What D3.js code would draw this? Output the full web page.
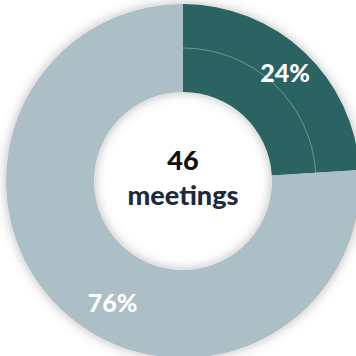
<!DOCTYPE html>
<html><head><meta charset="utf-8">
<script src="https://cdn.jsdelivr.net/npm/d3@7"></script>
<style>html,body{margin:0;padding:0;background:#fff;overflow:hidden}</style>
</head><body>
<svg id="c" width="356" height="356"></svg>
<script>
const categories = ["Yes", "No"];
const values = [24, 76];
const labels = ["24%", "76%"];
const totalValue = ["46"];
const totalUnit = ["meetings"];

const colors = ["#2b6462", "#acbec6"];
const svg = d3.select("#c");
const cx = 183, cy = 181, rOuter = 177, rInner = 89;
const font = "Lato, 'Open Sans', sans-serif";

const defs = svg.append("defs");
const f = defs.append("filter").attr("id","sh").attr("x","-20%").attr("y","-20%").attr("width","140%").attr("height","140%");
f.append("feDropShadow").attr("dx",0).attr("dy",0).attr("stdDeviation",6).attr("flood-color","#000").attr("flood-opacity",0.28);

const g = svg.append("g").attr("transform",`translate(${cx},${cy})`);
const pie = d3.pie().sort(null).value(d=>d)(values);
const arc = d3.arc().innerRadius(rInner).outerRadius(rOuter);

g.append("g").attr("filter","url(#sh)")
 .selectAll("path").data(pie).join("path")
 .attr("d", arc).attr("fill",(d,i)=>colors[i]);

// faint ring line within first slice
const ringArc = d3.arc().innerRadius(133).outerRadius(133);
g.append("path").datum(pie[0]).attr("d", ringArc)
 .attr("fill","none").attr("stroke","#fff").attr("stroke-opacity",0.22).attr("stroke-width",0.8);

// labels
const labelR = [149, 140];
const labelAngleShift = [0, -0.072];
g.selectAll("text.lbl").data(pie).join("text").attr("class","lbl")
 .attr("x",(d,i)=>{const a=(d.startAngle+d.endAngle)/2+labelAngleShift[i]*Math.PI; return labelR[i]*Math.sin(a);})
 .attr("y",(d,i)=>{const a=(d.startAngle+d.endAngle)/2+labelAngleShift[i]*Math.PI; return -labelR[i]*Math.cos(a);})
 .attr("text-anchor","middle").attr("dominant-baseline","central")
 .attr("fill","#fff").attr("font-family",font).attr("font-weight",900).attr("font-size",25)
 .text((d,i)=>labels[i]);

g.append("text").attr("x",0).attr("y",-11).attr("text-anchor","middle")
 .attr("font-family",font).attr("font-weight",900).attr("font-size",27).attr("fill","#111")
 .text(totalValue[0]);
g.append("text").attr("x",0).attr("y",24).attr("text-anchor","middle")
 .attr("font-family",font).attr("font-weight",900).attr("font-size",27).attr("fill","#1e2b3c")
 .text(totalUnit[0]);
</script>
</body></html>
